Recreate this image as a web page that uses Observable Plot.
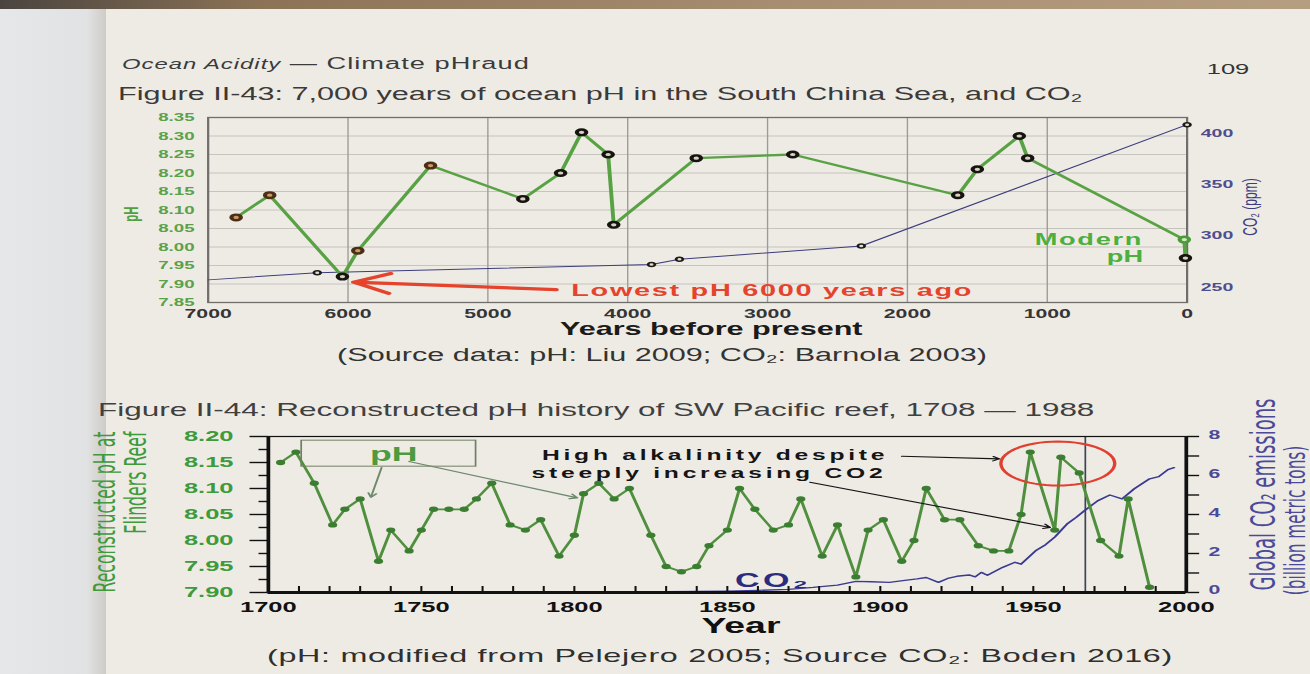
<!DOCTYPE html>
<html>
<head>
<meta charset="utf-8">
<script src="https://cdn.jsdelivr.net/npm/d3@7"></script>
<script src="https://cdn.jsdelivr.net/npm/@observablehq/plot@0.6"></script>
<style>
  html, body { margin:0; padding:0; width:1310px; height:674px; overflow:hidden; background:#eeebe5; }
  #leftpage { position:absolute; left:0; top:0; width:106px; height:674px;
    background:linear-gradient(to right,#e6e7e8 0%,#e1e2e3 82%,#cfccc7 100%); }
  #topband { position:absolute; left:0; top:0; width:1310px; height:9px;
    background:linear-gradient(to right,#4a4440,#8c7356 20%,#a88e70 60%,#b59d80); }
  #page { position:absolute; left:0; top:0; width:770.6px; height:674px;
    transform:scaleX(1.7); transform-origin:0 0;
    font-family:"Liberation Sans", Arial, sans-serif; color:#333; }
  #page .t { position:absolute; white-space:nowrap; line-height:1; }
</style>
</head>
<body>
<div id="leftpage"></div>
<div id="topband"></div>
<div id="page"></div>
<script>
// ================= Figure II-43 data (years before present) =================
const phYearsBP  = [6800, 6560, 6040, 5930, 5410, 4750, 4480, 4330, 4140, 4100, 3510, 2820, 1640, 1500, 1200, 1140, 20, 12];
const phValues   = [8.08, 8.14, 7.92, 7.99, 8.22, 8.13, 8.20, 8.31, 8.25, 8.06, 8.24, 8.25, 8.14, 8.21, 8.30, 8.24, 8.02, 7.97];
const co2YearsBP = [7000, 6220, 3830, 3630, 2330, 0];
const co2Ppm     = [257, 264, 272, 277, 290, 408];
const yearTicks43 = [7000, 6000, 5000, 4000, 3000, 2000, 1000, 0];
const phTicks43   = [7.85, 7.90, 7.95, 8.00, 8.05, 8.10, 8.15, 8.20, 8.25, 8.30, 8.35];
const co2Ticks43  = [250, 300, 350, 400];
const co2Domain43 = [235, 415];

// ================= Figure II-44 data =================
const yearsFR = [1704, 1709, 1715, 1721, 1725, 1730, 1736, 1740, 1746, 1750,
                 1754, 1759, 1764, 1768, 1773, 1779, 1784, 1789, 1795, 1800,
                 1803, 1808, 1813, 1818, 1825, 1830, 1835, 1840, 1844, 1850,
                 1854, 1859, 1865, 1870, 1874, 1881, 1886, 1892, 1896, 1901,
                 1907, 1911, 1915, 1921, 1926, 1932, 1937, 1942, 1946, 1949,
                 1957, 1959, 1965, 1972, 1978, 1981, 1988];
const phFR = [8.15, 8.17, 8.11, 8.03, 8.06, 8.08, 7.96, 8.02, 7.98, 8.02,
              8.06, 8.06, 8.06, 8.08, 8.11, 8.03, 8.02, 8.04, 7.97, 8.01,
              8.09, 8.11, 8.08, 8.10, 8.01, 7.95, 7.94, 7.95, 7.99, 8.02,
              8.10, 8.06, 8.02, 8.03, 8.08, 7.97, 8.03, 7.93, 8.02, 8.04,
              7.96, 8.00, 8.10, 8.04, 8.04, 7.99, 7.98, 7.98, 8.05, 8.17,
              8.02, 8.16, 8.13, 8.00, 7.97, 8.08, 7.91];
const co2Years44 = [1700, 1750, 1800, 1820, 1840, 1850, 1860, 1870, 1878, 1886,
                    1892, 1897, 1903, 1908, 1912, 1915, 1919, 1922, 1925, 1929,
                    1931, 1933, 1935, 1940, 1944, 1946, 1951, 1954, 1957, 1961,
                    1964, 1967, 1971, 1975, 1979, 1983, 1988, 1991, 1994, 1996];
const co2Emis44  = [0, 0, 0.02, 0.03, 0.05, 0.07, 0.11, 0.16, 0.26, 0.38,
                    0.57, 0.55, 0.52, 0.62, 0.70, 0.77, 0.52, 0.72, 0.83, 0.90,
                    0.80, 1.03, 0.88, 1.29, 1.55, 1.45, 2.17, 2.45, 2.84, 3.51,
                    3.85, 4.23, 4.70, 5.00, 4.80, 5.32, 5.83, 5.94, 6.30, 6.40];
const yearTicks44 = [1700, 1750, 1800, 1850, 1900, 1950, 2000];
const phTicks44   = [7.90, 7.95, 8.00, 8.05, 8.10, 8.15, 8.20];
const phMinor44   = [7.925, 7.975, 8.025, 8.075, 8.125, 8.175];
const emisTicks44 = [0, 2, 4, 6, 8];
const emisAll44   = [0, 1, 2, 3, 4, 5, 6, 7, 8];

// ================= annotations (data units) =================
const lowestNote = {text: "Lowest pH 6000 years ago", x: 4404, y: 7.882, from: [4512, 7.885], to: [5960, 7.905]};
const modernNote = [{t: "Modern", x: 315, y: 8.02}, {t: "pH", x: 315, y: 7.972}];
const phBoxNote  = {x1: 1711, x2: 1768, y1: 8.142, y2: 8.192, text: "pH", tx: 1741, ty: 8.166};
const phBoxArrows = [{x1: 1737, y1: 8.140, x2: 1733.5, y2: 8.083}, {x1: 1746, y1: 8.152, x2: 1801, y2: 8.082}];
const alkNote = [{t: "High alkalinity despite", x: 1846, y: 8.163}, {t: "steeply increasing CO2", x: 1844, y: 8.129}];
const alkArrows = [{x1: 1907, y1: 8.162, x2: 1939, y2: 8.157}, {x1: 1877, y1: 8.112, x2: 1955.5, y2: 8.025}];
const highPhRing = {year: 1958, ph: 8.148, rx: 18.6, ry: 0.0423};
const co2Label44 = {t: "CO\u2082", x: 1865, y: 7.923};
const markYear44 = 1967;

// ================= layout helpers =================
const S = 1.7;                 // horizontal stretch of the printed page
const FONT = '"Liberation Sans", Arial, sans-serif';
const NARROW = '"Liberation Sans Narrow", "Arial Narrow", "DejaVu Sans Condensed", sans-serif';
const page = document.getElementById("page");

function label(html, xRef, yRef, css, anchor) {
  const d = document.createElement("div");
  d.className = "t";
  d.innerHTML = html;
  Object.assign(d.style, css);
  d.style.left = (xRef / S) + "px";
  d.style.top = yRef + "px";
  const tx = anchor === "middle" ? "-50%" : anchor === "end" ? "-100%" : "0";
  d.style.transform = `translate(${tx}, -50%)`;
  page.appendChild(d);
}
function put(svg, xRef, yRef) {
  svg.style.position = "absolute";
  svg.style.left = (xRef / S) + "px";
  svg.style.top = yRef + "px";
  page.appendChild(svg);
}
function spaceText(svg, strings, ls) {
  svg.querySelectorAll("text").forEach(t => {
    if (strings.includes(t.textContent)) t.setAttribute("letter-spacing", ls);
  });
}

// ================= page texts =================
label('<i style="font-size:14px">Ocean Acidity</i> \u2014 Climate pHraud', 122, 64, {fontSize: "16px", color: "#3b3b3b", letterSpacing: "0.6px"}, "start");
label("109", 1228, 68, {fontSize: "15px", color: "#333"}, "middle");
label("Figure II-43: 7,000 years of ocean pH in the South China Sea, and CO\u2082", 118, 94, {fontSize: "18px", color: "#3a3a3a"}, "start");
label("(Source data: pH: Liu 2009; CO\u2082: Barnola 2003)", 662, 355, {fontSize: "18px", color: "#333"}, "middle");
label("Figure II-44: Reconstructed pH history of SW Pacific reef, 1708 \u2014 1988", 98, 410, {fontSize: "18.5px", color: "#404040"}, "start");
label("(pH: modified from Pelejero 2005; Source CO\u2082: Boden 2016)", 720, 655, {fontSize: "19px", letterSpacing: "0.4px", color: "#2f2f2f"}, "middle");

// ================= Figure II-43 =================
const toPh43 = d3.scaleLinear().domain(co2Domain43).range([7.85, 8.35]);
const ph43 = phYearsBP.map((yr, i) => ({yr, ph: phValues[i], modern: i === phYearsBP.length - 2}));
const co243 = co2YearsBP.map((yr, i) => ({yr, ppm: co2Ppm[i]}));
const tone = d => d.modern ? "modern" : (d.yr > 5000 && d.ph > 7.95 ? "brown" : "black");
const GREEN43 = "#58a244";

const chart43 = Plot.plot({
  width: 1180 / S, height: 250,
  marginLeft: 107 / S, marginRight: 94 / S, marginTop: 17, marginBottom: 48,
  style: {background: "transparent", overflow: "visible", fontFamily: FONT},
  x: {domain: [7000, 0], label: null},
  y: {domain: [7.85, 8.35], label: null},
  marks: [
    Plot.gridY(phTicks43, {stroke: "#c6c4bf", strokeOpacity: 1, strokeWidth: 0.9}),
    Plot.gridX(yearTicks43, {stroke: "#9d9b97", strokeOpacity: 1, strokeWidth: 0.8}),
    Plot.frame({stroke: "#6f6e6b", strokeWidth: 1.3}),
    Plot.axisY(phTicks43, {anchor: "left", tickSize: 0, tickPadding: 8, tickFormat: d3.format(".2f"),
      fill: "#5aa14a", fontSize: 11, fontWeight: "bold", label: null}),
    Plot.axisX(yearTicks43, {anchor: "bottom", tickSize: 0, tickPadding: 7, tickFormat: d => String(d),
      fill: "#353535", fontSize: 12.5, fontWeight: "bold", label: null}),
    Plot.axisY(co2Ticks43.map(toPh43), {anchor: "right", tickSize: 0, tickPadding: 8,
      tickFormat: d => Math.round(toPh43.invert(d)), fill: "#4e4e8e", fontSize: 11.5, fontWeight: "bold", label: null}),
    Plot.line(co243, {x: "yr", y: d => toPh43(d.ppm), stroke: "#3d3d7c", strokeWidth: 1}),
    Plot.line(ph43, {x: "yr", y: "ph", stroke: GREEN43, strokeWidth: 2.3}),
    Plot.dot(co243.slice(1), {x: "yr", y: d => toPh43(d.ppm), r: 2, stroke: "#1d1a16", strokeWidth: 1.6, fill: "#e2ddd2"}),
    Plot.dot(ph43, {filter: d => tone(d) === "brown", x: "yr", y: "ph", r: 2.8, strokeWidth: 2.4, stroke: "#4b2e16", fill: "#c99a66"}),
    Plot.dot(ph43, {filter: d => tone(d) === "black", x: "yr", y: "ph", r: 2.8, strokeWidth: 2.4, stroke: "#17130f", fill: "#d8d2c6"}),
    Plot.dot(ph43, {filter: d => tone(d) === "modern", x: "yr", y: "ph", r: 2.8, strokeWidth: 2.4, stroke: "#4a9c3a", fill: "#d5e3c6"}),
    Plot.arrow([lowestNote], {x1: d => d.from[0], y1: d => d.from[1], x2: d => d.to[0], y2: d => d.to[1],
      stroke: "#e5432c", strokeWidth: 3.2, headLength: 11, headAngle: 50}),
    Plot.text([lowestNote], {x: "x", y: "y", text: "text", textAnchor: "start", fill: "#e5432c",
      fontSize: 17, fontWeight: "bold"}),
    Plot.text(modernNote, {x: "x", y: "y", text: "t", textAnchor: "end", fill: "#4caf3e",
      fontSize: 16, fontWeight: "bold"}),
    Plot.text(["pH"], {frameAnchor: "left", dx: -45, dy: 4, rotate: -90, textAnchor: "middle", text: d => d,
      fill: "#4fa13f", fontSize: 11.5, fontWeight: "bold"}),
    Plot.text(["CO\u2082 (ppm)"], {frameAnchor: "right", dx: 37, dy: -3, rotate: -90, textAnchor: "middle", text: d => d,
      fill: "#3d3d7e", fontSize: 12}),
    Plot.text(["Years before present"], {frameAnchor: "bottom", dy: 33, dx: 8, text: d => d,
      fill: "#1b1b1b", fontSize: 18, fontWeight: "bold"})
  ]
});
put(chart43, 100, 100);
spaceText(chart43, [lowestNote.text, "Modern"], "1");

// ================= Figure II-44 =================
const toPh44 = d3.scaleLinear().domain([0, 8]).range([7.90, 8.20]);
const fr = yearsFR.map((year, i) => ({year, ph: phFR[i]}));
const emis = co2Years44.map((year, i) => ({year, e: co2Emis44[i]}));
const PXY = 0.3 / 156;   // pH units per pixel (vertical)
const ellipsePts = d3.range(0, 361, 6).map(a => ({
  x: highPhRing.year + highPhRing.rx * Math.cos(a * Math.PI / 180),
  y: highPhRing.ph + highPhRing.ry * Math.sin(a * Math.PI / 180)
}));

const chart44 = Plot.plot({
  width: 1250 / S, height: 228,
  marginLeft: 208 / S, marginRight: 124 / S, marginTop: 16, marginBottom: 56,
  style: {background: "transparent", overflow: "visible", fontFamily: FONT},
  x: {domain: [1700, 2000], label: null},
  y: {domain: [7.90, 8.20], label: null},
  marks: [
    Plot.ruleX([markYear44], {stroke: "#3b4654", strokeWidth: 1}),
    Plot.line(emis, {x: "year", y: d => toPh44(d.e), stroke: "#3a3a92", strokeWidth: 1.4}),
    Plot.line(fr, {x: "year", y: "ph", stroke: "#4f8f3d", strokeWidth: 1.8}),
    Plot.dot(fr, {x: "year", y: "ph", r: 2.7, fill: "#3c7e31"}),
    Plot.frame({stroke: "#111", strokeWidth: 1.2}),
    Plot.ruleX([1700, 2000], {stroke: "#111", strokeWidth: 2.2}),
    Plot.ruleY([7.90], {stroke: "#111", strokeWidth: 2.8}),
    Plot.ruleX(d3.range(1710, 2000, 10), {y1: 7.90, y2: 7.90 + 6 * PXY, stroke: "#111", strokeWidth: 1.2}),
    Plot.axisY(phTicks44, {anchor: "left", tickSize: 18 / S, fill: "none", stroke: "#111", strokeWidth: 1.4, label: null}),
    Plot.axisY(phMinor44, {anchor: "left", tickSize: 9 / S, fill: "none", stroke: "#111", strokeWidth: 1.4, label: null}),
    Plot.axisY(phTicks44, {anchor: "left", tickSize: 0, tickPadding: 20.5, tickFormat: d3.format(".2f"),
      fill: "#3f9a3c", fontSize: 15, fontWeight: "bold", label: null}),
    Plot.axisY(emisAll44.map(toPh44), {anchor: "right", tickSize: 12 / S, fill: "none", stroke: "#111", strokeWidth: 1.4, label: null}),
    Plot.axisY(emisTicks44.map(toPh44), {anchor: "right", tickSize: 0, tickPadding: 13, dy: -2,
      tickFormat: d => Math.round(toPh44.invert(d)), fill: "#4a4a98", fontSize: 12.5, fontWeight: "bold", label: null}),
    Plot.axisX(yearTicks44, {anchor: "bottom", tickSize: 0, tickPadding: 9, tickFormat: d => String(d),
      fill: "#111", fontSize: 15, fontWeight: "bold", label: null}),
    // annotations
    Plot.rect([phBoxNote], {x1: "x1", x2: "x2", y1: "y1", y2: "y2", fill: "none", stroke: "#6f7f62", strokeWidth: 1}),
    Plot.text([phBoxNote], {x: "tx", y: "ty", text: "text", fill: "#4e9a3e", fontSize: 21, fontWeight: "bold"}),
    Plot.arrow(phBoxArrows, {x1: "x1", y1: "y1", x2: "x2", y2: "y2", stroke: "#6e8a6e", strokeWidth: 1.2, headLength: 6}),
    Plot.text(alkNote, {x: "x", y: "y", text: "t", fill: "#151515", fontSize: 14.5, fontWeight: "bold"}),
    Plot.arrow(alkArrows, {x1: "x1", y1: "y1", x2: "x2", y2: "y2", stroke: "#151515", strokeWidth: 1.1, headLength: 6}),
    Plot.line(ellipsePts, {x: "x", y: "y", stroke: "#e0402f", strokeWidth: 2}),
    Plot.text([co2Label44], {x: "x", y: "y", text: "t", fill: "#2c2c7e", fontSize: 20, fontWeight: "bold"}),
    // axis titles
    Plot.text(["Year"], {frameAnchor: "bottom", dy: 41, dx: 8, text: d => d, fill: "#111", fontSize: 22, fontWeight: "bold"}),
    Plot.text(["Reconstructed pH at"], {frameAnchor: "top-left", dx: (93 - 268) / S, dy: -5, rotate: -90, textAnchor: "end",
      text: d => d, fill: "#3f9a3c", fontSize: 17.5, fontFamily: NARROW}),
    Plot.text(["Flinders Reef"], {frameAnchor: "top-left", dx: (125 - 268) / S, dy: -5, rotate: -90, textAnchor: "end",
      text: d => d, fill: "#3f9a3c", fontSize: 17.5, fontFamily: NARROW}),
    Plot.text(["Global CO\u2082 emissions"], {frameAnchor: "right", dx: (1264 - 1186) / S, dy: -20, rotate: -90, textAnchor: "middle",
      text: d => d, fill: "#4a4a98", fontSize: 20, fontFamily: NARROW}),
    Plot.text(["(billion metric tons)"], {frameAnchor: "right", dx: (1295 - 1186) / S, dy: 6, rotate: -90, textAnchor: "middle",
      text: d => d, fill: "#4a4a98", fontSize: 17, fontFamily: NARROW})
  ]
});
put(chart44, 60, 420);
spaceText(chart44, alkNote.map(d => d.t), "2.2");
spaceText(chart44, [co2Label44.t], "2");
</script>
</body>
</html>
